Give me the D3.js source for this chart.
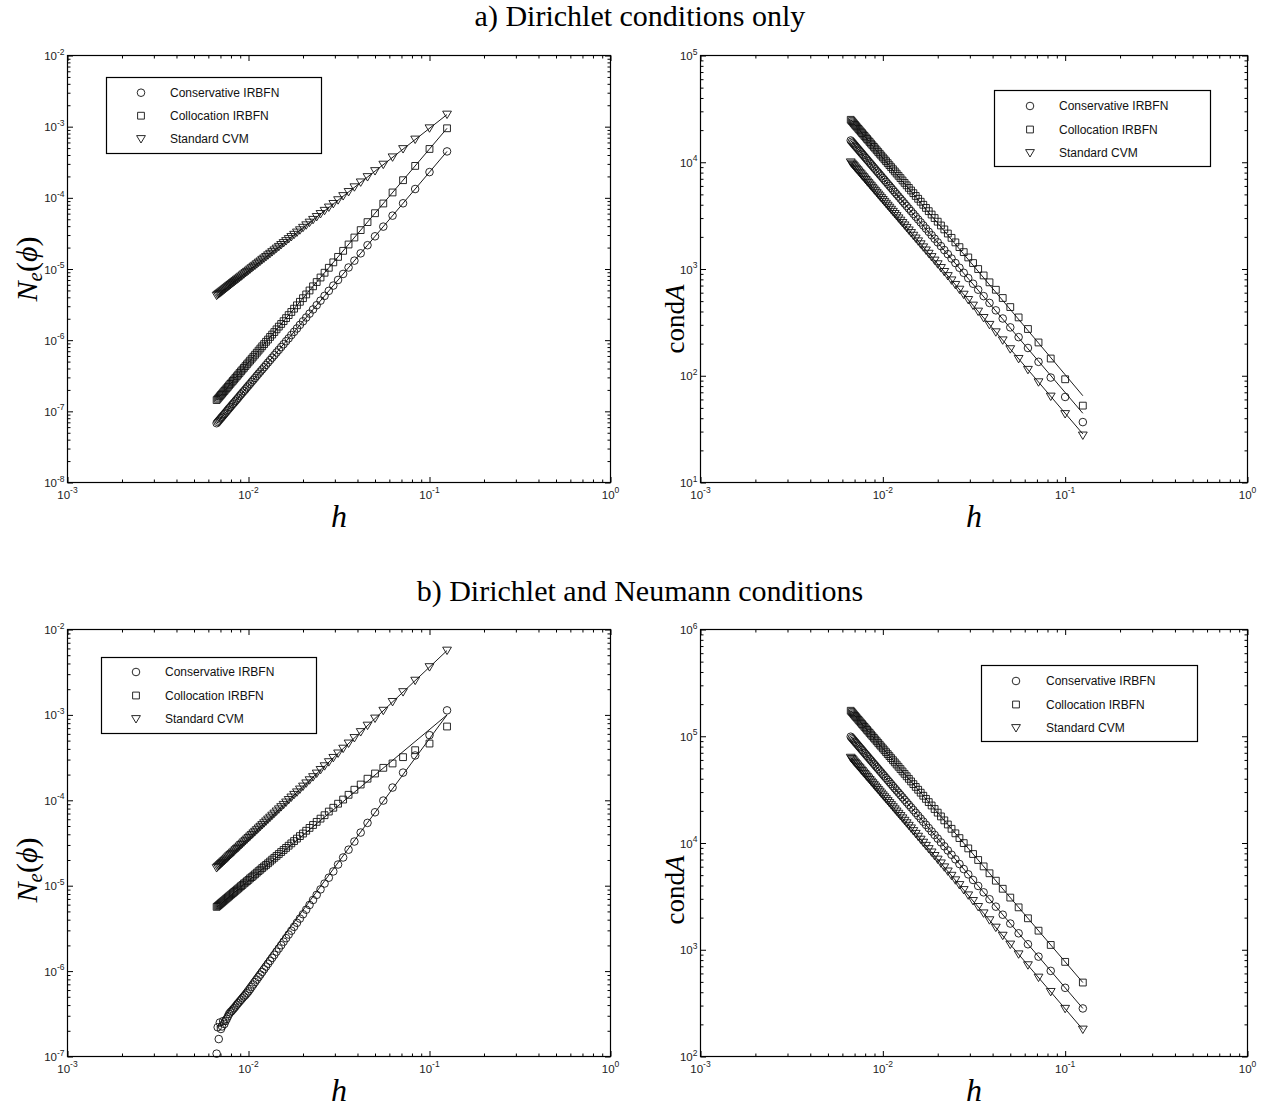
<!DOCTYPE html>
<html><head><meta charset="utf-8">
<script src="https://cdn.jsdelivr.net/npm/d3@7"></script>
<style>
body{margin:0;background:#fff;}
svg{display:block;}
</style></head><body>
<script>
// ---------------- DATA ----------------
const hValues = [0.125,0.1,0.083333,0.071429,0.0625,0.055556,0.05,0.045455,0.041667,0.038462,
0.035714,0.033333,0.03125,0.029412,0.027778,0.026316,0.025,0.02381,0.022727,0.021739,
0.020833,0.02,0.019231,0.018519,0.017857,0.017241,0.016667,0.016129,0.015625,0.015152,
0.014706,0.014286,0.013889,0.013514,0.013158,0.012821,0.0125,0.012195,0.011905,0.011628,
0.011364,0.011111,0.01087,0.010638,0.010417,0.010204,0.01,0.0098039,0.0096154,0.009434,
0.0092593,0.0090909,0.0089286,0.0087719,0.0086207,0.0084746,0.0083333,0.0081967,0.0080645,0.0079365,
0.0078125,0.0076923,0.0075758,0.0074627,0.0073529,0.0072464,0.0071429,0.0070423,0.0069444,0.0068493,
0.0067568,0.0066667];

const seriesNames = ["Conservative IRBFN","Collocation IRBFN","Standard CVM"];
const titles = ["a) Dirichlet conditions only","b) Dirichlet and Neumann conditions"];

const xTicks = [1e-3,1e-2,1e-1,1];
const yTicksErrA = [1e-8,1e-7,1e-6,1e-5,1e-4,1e-3,1e-2];
const yTicksCondA = [1e1,1e2,1e3,1e4,1e5];
const yTicksErrB = [1e-7,1e-6,1e-5,1e-4,1e-3,1e-2];
const yTicksCondB = [1e2,1e3,1e4,1e5,1e6];

// a) Dirichlet only : N_e(phi)
const errA_conservative = [4.49e-4,2.30e-4,1.33e-4,8.38e-5,5.62e-5,3.94e-5,2.88e-5,2.16e-5,1.66e-5,1.31e-5,
1.05e-5,8.52e-6,7.02e-6,5.85e-6,4.93e-6,4.19e-6,3.59e-6,3.10e-6,2.70e-6,2.36e-6,
2.08e-6,1.84e-6,1.64e-6,1.46e-6,1.31e-6,1.18e-6,1.06e-6,9.65e-7,8.77e-7,8.00e-7,
7.31e-7,6.71e-7,6.16e-7,5.68e-7,5.24e-7,4.85e-7,4.49e-7,4.17e-7,3.88e-7,3.62e-7,
3.38e-7,3.16e-7,2.95e-7,2.77e-7,2.60e-7,2.44e-7,2.30e-7,2.17e-7,2.04e-7,1.93e-7,
1.83e-7,1.73e-7,1.64e-7,1.55e-7,1.47e-7,1.40e-7,1.33e-7,1.27e-7,1.21e-7,1.15e-7,
1.10e-7,1.05e-7,1.00e-7,9.56e-8,9.14e-8,8.75e-8,8.38e-8,8.03e-8,7.70e-8,7.39e-8,
7.09e-8,6.81e-8];
const errA_collocation = [9.49e-4,4.86e-4,2.81e-4,1.77e-4,1.19e-4,8.33e-5,6.08e-5,4.56e-5,3.52e-5,2.77e-5,
2.21e-5,1.80e-5,1.48e-5,1.24e-5,1.04e-5,8.86e-6,7.59e-6,6.56e-6,5.71e-6,4.99e-6,
4.39e-6,3.89e-6,3.46e-6,3.09e-6,2.77e-6,2.49e-6,2.25e-6,2.04e-6,1.85e-6,1.69e-6,
1.55e-6,1.42e-6,1.30e-6,1.20e-6,1.11e-6,1.02e-6,9.49e-7,8.81e-7,8.20e-7,7.64e-7,
7.13e-7,6.67e-7,6.24e-7,5.85e-7,5.49e-7,5.16e-7,4.86e-7,4.58e-7,4.32e-7,4.08e-7,
3.86e-7,3.65e-7,3.46e-7,3.28e-7,3.11e-7,2.96e-7,2.81e-7,2.68e-7,2.55e-7,2.43e-7,
2.32e-7,2.21e-7,2.11e-7,2.02e-7,1.93e-7,1.85e-7,1.77e-7,1.70e-7,1.63e-7,1.56e-7,
1.50e-7,1.44e-7];
const errA_cvm = [1.48e-3,9.50e-4,6.60e-4,4.85e-4,3.71e-4,2.93e-4,2.38e-4,1.96e-4,1.65e-4,1.41e-4,
1.21e-4,1.06e-4,9.28e-5,8.22e-5,7.33e-5,6.58e-5,5.94e-5,5.39e-5,4.91e-5,4.49e-5,
4.12e-5,3.80e-5,3.51e-5,3.26e-5,3.03e-5,2.82e-5,2.64e-5,2.47e-5,2.32e-5,2.18e-5,
2.05e-5,1.94e-5,1.83e-5,1.73e-5,1.64e-5,1.56e-5,1.48e-5,1.41e-5,1.35e-5,1.28e-5,
1.23e-5,1.17e-5,1.12e-5,1.08e-5,1.03e-5,9.89e-6,9.50e-6,9.13e-6,8.78e-6,8.45e-6,
8.14e-6,7.85e-6,7.57e-6,7.31e-6,7.06e-6,6.82e-6,6.60e-6,6.38e-6,6.18e-6,5.98e-6,
5.80e-6,5.62e-6,5.45e-6,5.29e-6,5.14e-6,4.99e-6,4.85e-6,4.71e-6,4.58e-6,4.46e-6,
4.34e-6,4.22e-6];

// a) Dirichlet only : condA
const condA_conservative = [36.8,63.3,96.2,135,182,230,284,344,410,481,
557,640,728,822,921,1027,1138,1254,1377,1504,
1638,1778,1923,2073,2230,2392,2560,2733,2912,3097,
3288,3484,3686,3893,4107,4326,4550,4781,5017,5259,
5506,5759,6018,6282,6553,6828,7110,7397,7690,7989,
8293,8603,8919,9240,9567,9900,10238,10583,10932,11288,
11649,12016,12388,12767,13151,13540,13936,14337,14743,15156,
15574,15998];
const condA_collocation = [52.5,92.7,145,205,274,352,440,535,639,750,
870,999,1137,1283,1439,1603,1776,1958,2149,2349,
2557,2775,3001,3237,3481,3734,3996,4267,4547,4835,
5133,5439,5754,6078,6411,6753,7104,7464,7832,8210,
8596,8991,9395,9808,10230,10660,11100,11548,12006,12472,
12947,13431,13924,14426,14936,15456,15984,16521,17067,17622,
18186,18759,19341,19931,20531,21139,21756,22382,23017,23661,
24313,24975];
const condA_cvm = [27.6,43.8,63.9,87.0,113.7,143.9,177.6,214.9,255.7,300.1,
348.1,399.6,454.7,513.3,575.4,641.1,710.4,783.2,859.6,939.5,
1023,1110,1201,1295,1392,1494,1598,1707,1819,1934,
2053,2176,2302,2431,2565,2701,2842,2985,3133,3284,
3438,3596,3758,3923,4092,4264,4440,4619,4802,4989,
5179,5372,5570,5770,5974,6182,6394,6608,6827,7049,
7274,7504,7736,7972,8212,8456,8702,8953,9207,9464,
9725,9990];

// b) Dirichlet and Neumann : N_e(phi)
const errB_conservative = [1.13e-3,5.79e-4,3.35e-4,2.11e-4,1.41e-4,9.93e-5,7.24e-5,5.44e-5,4.19e-5,3.29e-5,
2.64e-5,2.14e-5,1.77e-5,1.47e-5,1.24e-5,1.06e-5,9.05e-6,7.81e-6,6.80e-6,5.95e-6,
5.24e-6,4.63e-6,4.12e-6,3.68e-6,3.30e-6,2.97e-6,2.68e-6,2.43e-6,2.21e-6,2.01e-6,
1.84e-6,1.69e-6,1.55e-6,1.43e-6,1.32e-6,1.22e-6,1.13e-6,1.05e-6,9.77e-7,9.10e-7,
8.50e-7,7.94e-7,7.44e-7,6.97e-7,6.54e-7,6.15e-7,5.79e-7,5.50e-7,5.25e-7,5.05e-7,
4.83e-7,4.61e-7,4.41e-7,4.22e-7,4.04e-7,3.85e-7,3.69e-7,3.55e-7,3.40e-7,3.30e-7,
3.15e-7,2.95e-7,2.75e-7,2.60e-7,2.40e-7,2.60e-7,2.25e-7,2.10e-7,2.50e-7,1.60e-7,
2.20e-7,1.08e-7];
const errB_collocation = [7.31e-4,4.62e-4,3.86e-4,3.20e-4,2.70e-4,2.40e-4,2.06e-4,1.79e-4,1.53e-4,1.33e-4,
1.16e-4,1.02e-4,9.12e-5,8.18e-5,7.38e-5,6.69e-5,6.10e-5,5.59e-5,5.14e-5,4.75e-5,
4.40e-5,4.08e-5,3.81e-5,3.56e-5,3.33e-5,3.13e-5,2.94e-5,2.77e-5,2.62e-5,2.48e-5,
2.35e-5,2.23e-5,2.12e-5,2.02e-5,1.92e-5,1.83e-5,1.75e-5,1.68e-5,1.61e-5,1.54e-5,
1.48e-5,1.42e-5,1.36e-5,1.31e-5,1.26e-5,1.22e-5,1.17e-5,1.13e-5,1.09e-5,1.06e-5,
1.02e-5,9.88e-6,9.56e-6,9.26e-6,8.98e-6,8.71e-6,8.45e-6,8.20e-6,7.96e-6,7.74e-6,
7.52e-6,7.31e-6,7.12e-6,6.93e-6,6.74e-6,6.57e-6,6.40e-6,6.24e-6,6.08e-6,5.93e-6,
5.79e-6,5.65e-6];
const errB_cvm = [5.67e-3,3.63e-3,2.52e-3,1.85e-3,1.42e-3,1.12e-3,9.08e-4,7.50e-4,6.30e-4,5.37e-4,
4.63e-4,4.03e-4,3.54e-4,3.14e-4,2.80e-4,2.51e-4,2.27e-4,2.06e-4,1.87e-4,1.72e-4,
1.58e-4,1.45e-4,1.34e-4,1.24e-4,1.16e-4,1.08e-4,1.01e-4,9.44e-5,8.86e-5,8.33e-5,
7.85e-5,7.41e-5,7.00e-5,6.63e-5,6.28e-5,5.97e-5,5.67e-5,5.40e-5,5.14e-5,4.91e-5,
4.69e-5,4.48e-5,4.29e-5,4.11e-5,3.94e-5,3.78e-5,3.63e-5,3.49e-5,3.36e-5,3.23e-5,
3.11e-5,3.00e-5,2.89e-5,2.79e-5,2.70e-5,2.61e-5,2.52e-5,2.44e-5,2.36e-5,2.29e-5,
2.22e-5,2.15e-5,2.08e-5,2.02e-5,1.96e-5,1.91e-5,1.85e-5,1.80e-5,1.75e-5,1.70e-5,
1.66e-5,1.61e-5];

// b) Dirichlet and Neumann : condA
const condB_conservative = [282,440,634,862,1126,1426,1760,2130,2534,2974,
3450,3960,4506,5086,5702,6354,7040,7762,8518,9310,
10138,11000,11898,12830,13798,14802,15840,16914,18022,19166,
20346,21560,22810,24094,25414,26770,28160,29586,31046,32542,
34074,35640,37242,38878,40550,42258,44000,45778,47590,49438,
51322,53240,55194,57182,59206,61266,63360,65490,67654,69854,
72090,74360,76666,79006,81382,83794,86240,88722,91238,93790,
96378,99000];
const condB_collocation = [493,770,1109,1509,1971,2495,3080,3727,4435,5205,
6037,6930,7885,8901,9979,11119,12320,13583,14907,16293,
17741,19250,20821,22453,24147,25903,27720,29599,31539,33541,
35605,37730,39917,42165,44475,46847,49280,51775,54331,56949,
59629,62370,65173,68037,70963,73951,77000,80111,83283,86517,
89813,93170,96589,100069,103611,107215,110880,114607,118395,122245,
126157,130130,134165,138261,142419,146639,150920,155263,159667,164133,
168661,173250];
const condB_cvm = [179,280,403,549,717,907,1120,1355,1613,1893,
2195,2520,2867,3237,3629,4043,4480,4939,5421,5925,
6451,7000,7571,8165,8781,9419,10080,10763,11469,12197,
12947,13720,14515,15333,16173,17035,17920,18827,19757,20709,
21683,22680,23699,24741,25805,26891,28000,29131,30285,31461,
32659,33880,35123,36389,37677,38987,40320,41675,43053,44453,
45875,47320,48787,50277,51789,53323,54880,56459,58061,59685,
61331,63000];

// least-squares fit lines (values at the two end h)
const fitH = [0.0066667, 0.125];
const fitErrA_conservative = [6.81e-8, 4.49e-4];
const fitErrA_collocation = [1.44e-7, 9.49e-4];
const fitErrA_cvm = [4.22e-6, 1.48e-3];
const fitCondA_conservative = [1.6e4, 44.5];
const fitCondA_collocation = [2.5e4, 65];
const fitCondA_cvm = [1.0e4, 28.5];
const fitErrB_conservative = [2.2e-7, 1.0e-3];
const fitErrB_collocation = [5.6e-6, 1.0e-3];
const fitErrB_cvm = [1.61e-5, 5.67e-3];
const fitCondB_conservative = [9.9e4, 282];
const fitCondB_collocation = [1.73e5, 493];
const fitCondB_cvm = [6.3e4, 179];

// ---------------- DRAWING ----------------
const W = 1282, H = 1110;
const svg = d3.select("body").append("svg").attr("width", W).attr("height", H);
svg.append("rect").attr("width", W).attr("height", H).attr("fill", "#fff");

const SANS = "'Liberation Sans', Arial, Helvetica, sans-serif";
const SERIF = "'Liberation Serif', 'Times New Roman', serif";

const markerPaths = [
  "M3.8,0A3.8,3.8 0 1,1 -3.8,0A3.8,3.8 0 1,1 3.8,0Z",
  "M-3.4,-3.4H3.4V3.4H-3.4Z",
  "M-4.4,-3.4H4.4L0,4.0Z"
];

const panels = [
  {x0:67.5, x1:610.5, y0:55.5, y1:482.5, yTicks:yTicksErrA, kind:"err", labelDy:0,
   data:[errA_conservative, errA_collocation, errA_cvm],
   fits:[fitErrA_conservative, fitErrA_collocation, fitErrA_cvm],
   legend:{x:106.5, y:77.5, w:215, h:76, mx:141, tx:170, rows:[92.7,115.7,139]}},
  {x0:700.5, x1:1247.5, y0:55.5, y1:482.5, yTicks:yTicksCondA, kind:"cond", labelDy:50,
   data:[condA_conservative, condA_collocation, condA_cvm],
   fits:[fitCondA_conservative, fitCondA_collocation, fitCondA_cvm],
   legend:{x:994.5, y:90.5, w:216, h:76, mx:1030, tx:1059, rows:[106,129.5,153]}},
  {x0:67.5, x1:610.5, y0:629.5, y1:1056.5, yTicks:yTicksErrB, kind:"err", labelDy:27,
   data:[errB_conservative, errB_collocation, errB_cvm],
   fits:[fitErrB_conservative, fitErrB_collocation, fitErrB_cvm],
   legend:{x:101.5, y:657.5, w:215, h:76, mx:136, tx:165, rows:[672,695.5,719]}},
  {x0:700.5, x1:1247.5, y0:629.5, y1:1056.5, yTicks:yTicksCondB, kind:"cond", labelDy:47,
   data:[condB_conservative, condB_collocation, condB_cvm],
   fits:[fitCondB_conservative, fitCondB_collocation, fitCondB_cvm],
   legend:{x:981.5, y:665.5, w:216, h:76, mx:1016, tx:1046, rows:[681,704.5,728]}}
];

function minorTicks(lo, hi) {
  const out = [];
  for (let e = Math.round(Math.log10(lo)); e < Math.round(Math.log10(hi)); e++)
    for (let d = 2; d <= 9; d++) out.push(d * Math.pow(10, e));
  return out;
}

function tickLabel(g, x, y, v, anchor) {
  const e = Math.round(Math.log10(v));
  const t = g.append("text").attr("x", x).attr("y", y).attr("text-anchor", anchor)
    .attr("font-family", SANS).attr("font-size", 11.5).attr("fill", "#222");
  t.append("tspan").text("10");
  t.append("tspan").attr("font-size", 8.5).attr("dy", -5.5).text(String(e));
}

panels.forEach(p => {
  const g = svg.append("g");
  const xs = d3.scaleLog().domain([xTicks[0], xTicks[xTicks.length-1]]).range([p.x0, p.x1]);
  const yDom = [p.yTicks[0], p.yTicks[p.yTicks.length-1]];
  const ys = d3.scaleLog().domain(yDom).range([p.y1, p.y0]);

  // fit lines
  const line = d3.line().x(d => xs(d[0])).y(d => ys(d[1]));
  p.fits.forEach(f => {
    g.append("path").attr("d", line(d3.zip(fitH, f))).attr("fill", "none")
      .attr("stroke", "#000").attr("stroke-width", 0.9);
  });

  // markers
  p.data.forEach((arr, si) => {
    g.append("g").selectAll("path").data(d3.zip(hValues, arr)).join("path")
      .attr("transform", d => `translate(${xs(d[0])},${ys(d[1])})`)
      .attr("d", markerPaths[si]).attr("fill", "none")
      .attr("stroke", "#111").attr("stroke-width", 0.9);
  });

  // axes ticks (inward), all four sides
  const xMin = minorTicks(xs.domain()[0], xs.domain()[1]);
  const yMin = minorTicks(yDom[0], yDom[1]);
  const axes = [
    [d3.axisBottom(xs), `translate(0,${p.y1})`, xTicks, xMin],
    [d3.axisTop(xs), `translate(0,${p.y0})`, xTicks, xMin],
    [d3.axisLeft(ys), `translate(${p.x0},0)`, p.yTicks, yMin],
    [d3.axisRight(ys), `translate(${p.x1},0)`, p.yTicks, yMin]
  ];
  axes.forEach(([ax, tr, maj, mn]) => {
    g.append("g").attr("transform", tr)
      .call(ax.tickValues(maj).tickSizeInner(-5.5).tickSizeOuter(0).tickFormat(""))
      .call(s => { s.select(".domain").remove(); s.selectAll("text").remove();
                   s.selectAll("line").attr("stroke", "#000").attr("stroke-width", 1); });
    g.append("g").attr("transform", tr)
      .call(ax.tickValues(mn).tickSizeInner(-3).tickSizeOuter(0).tickFormat(""))
      .call(s => { s.select(".domain").remove(); s.selectAll("text").remove();
                   s.selectAll("line").attr("stroke", "#000").attr("stroke-width", 1); });
  });

  // box
  g.append("rect").attr("x", p.x0).attr("y", p.y0)
    .attr("width", p.x1 - p.x0).attr("height", p.y1 - p.y0)
    .attr("fill", "none").attr("stroke", "#000").attr("stroke-width", 1.2);

  // tick labels
  xTicks.forEach(v => tickLabel(g, xs(v), p.y1 + 16, v, "middle"));
  p.yTicks.forEach(v => tickLabel(g, p.x0 - 3, ys(v) + 4.5, v, "end"));

  // x label
  g.append("text").attr("x", (p.x0 + p.x1) / 2).attr("y", p.y1 + 44)
    .attr("text-anchor", "middle").attr("font-family", SERIF).attr("font-style", "italic")
    .attr("font-size", 32).text("h");

  // y label
  const cy = (p.y0 + p.y1) / 2 + p.labelDy;
  if (p.kind === "err") {
    const t = g.append("text").attr("transform", `translate(${p.x0 - 31},${cy}) rotate(-90)`)
      .attr("text-anchor", "middle").attr("font-family", SERIF).attr("font-size", 30);
    t.append("tspan").attr("font-style", "italic").text("N");
    t.append("tspan").attr("font-style", "italic").attr("font-size", 21).attr("dy", 5).text("e");
    t.append("tspan").attr("dy", -5).text("(");
    t.append("tspan").attr("font-style", "italic").text("\u03D5");
    t.append("tspan").text(")");
  } else {
    const t = g.append("text").attr("transform", `translate(${p.x0 - 17},${cy}) rotate(-90)`)
      .attr("text-anchor", "middle").attr("font-family", SERIF).attr("font-size", 27);
    t.append("tspan").text("cond");
    t.append("tspan").attr("font-style", "italic").text("A");
  }

  // legend
  const L = p.legend;
  const lg = g.append("g");
  lg.append("rect").attr("x", L.x).attr("y", L.y).attr("width", L.w).attr("height", L.h)
    .attr("fill", "#fff").attr("stroke", "#000").attr("stroke-width", 1.2);
  seriesNames.forEach((name, i) => {
    lg.append("path").attr("transform", `translate(${L.mx},${L.rows[i]})`)
      .attr("d", markerPaths[i]).attr("fill", "none").attr("stroke", "#111").attr("stroke-width", 0.9);
    lg.append("text").attr("x", L.tx).attr("y", L.rows[i] + 4.2)
      .attr("font-family", SANS).attr("font-size", 12).attr("fill", "#111").text(name);
  });
});

// titles
svg.append("text").attr("x", 640).attr("y", 26).attr("text-anchor", "middle")
  .attr("font-family", SERIF).attr("font-size", 30).text(titles[0]);
svg.append("text").attr("x", 640).attr("y", 601).attr("text-anchor", "middle")
  .attr("font-family", SERIF).attr("font-size", 30).text(titles[1]);
</script>
</body></html>
